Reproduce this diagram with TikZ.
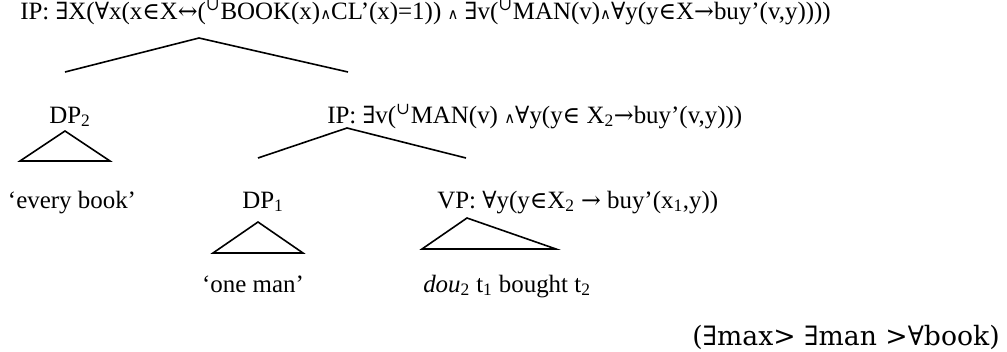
\documentclass[tikz,border=0pt]{standalone}
\usepackage{fontspec}
\setmainfont{Liberation Serif}
\newfontfamily\symf{DejaVu Serif}[Scale=0.95]
\newfontfamily\andf{DejaVu Sans}[Scale=0.6]
\newfontfamily\notef{DejaVu Serif}
\usepackage{tikz}
\usetikzlibrary{positioning}
% logic symbols (not in Liberation Serif)
\newcommand{\qE}{{\symf ∃}}
\newcommand{\qA}{{\symf ∀}}
\newcommand{\qin}{{\symf ∈}}
\newcommand{\qand}{{\andf ∧}}
\newcommand{\qup}{\textsuperscript{\symf ∪}}
\newcommand{\qto}{{\symf →}}
\newcommand{\qiff}{{\symf ↔}}

\begin{document}
\begin{tikzpicture}[x=0.75pt,y=-0.75pt,
  lab/.style={anchor=base west,inner sep=0pt,font=\fontsize{18.7}{22}\selectfont},
  br/.style={line width=1.2pt,black},
  tri/.style={line width=1.2pt,black,line join=miter}]
\useasboundingbox (0,0) rectangle (1007,351);
% top IP
\node[lab] (ipTop) at (20,19) {IP: \qE X(\qA x(x\qin X\qiff(\qup BOOK(x)\qand CL’(x)=1)) \qand\ \qE v(\qup MAN(v)\qand\qA y(y\qin X\qto buy’(v,y))))};
\coordinate (topApex) at (199,38);
\coordinate (topL) at (65,72);
\coordinate (topR) at (348,72);
\draw[br] (topL) -- (topApex) -- (topR);
% left branch: DP2
\node[lab,anchor=base] (dpTwo) at (70,123) {DP\textsubscript{2}};
\draw[tri] (65,131) -- (20,161) -- (110,161) -- cycle;
\node[lab,anchor=base] (everyBook) at (72,208) {‘every book’};
% right branch: lower IP
\node[lab] (ipLow) at (327,123) {IP: \qE v(\qup MAN(v) \qand\qA y(y\qin\ X\textsubscript{2}\qto buy’(v,y)))};
\coordinate (lowApex) at (347,128);
\coordinate (lowL) at (258,158);
\coordinate (lowR) at (466,158);
\draw[br] (lowL) -- (lowApex) -- (lowR);
% DP1
\node[lab,anchor=base] (dpOne) at (263,208) {DP\textsubscript{1}};
\draw[tri] (258,222) -- (213,253) -- (303,253) -- cycle;
\node[lab,anchor=base] (oneMan) at (253,292) {‘one man’};
% VP
\node[lab] (vp) at (437,208) {VP: \qA y(y\qin X\textsubscript{2} \qto\ buy’(x\textsubscript{1},y))};
\draw[tri] (467,218) -- (422,249) -- (556,249) -- cycle;
\node[lab] (vpWords) at (423,292) {\textit{dou}\textsubscript{2} t\textsubscript{1} bought t\textsubscript{2}};
% scope order
\node[anchor=base east,inner sep=0pt,font=\notef\fontsize{20}{24}\selectfont] (scopeNote) at (1000,345) {(∃max> ∃man >∀book)};
\end{tikzpicture}
\end{document}
